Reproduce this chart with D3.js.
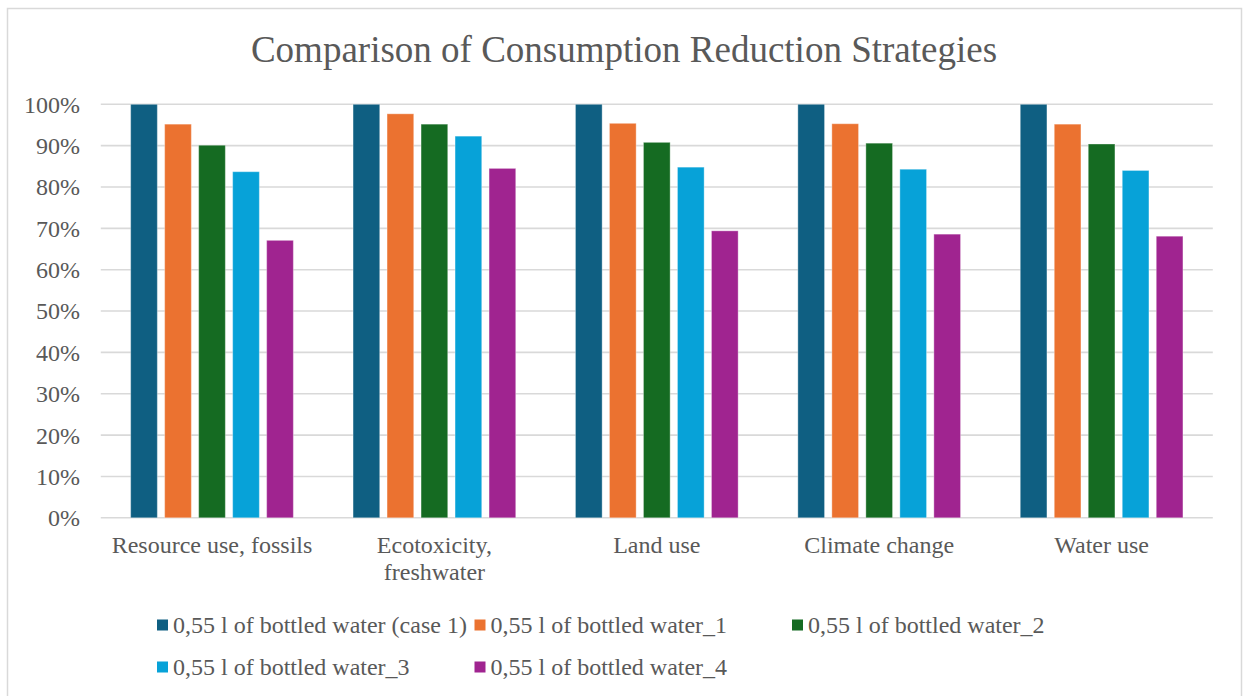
<!DOCTYPE html>
<html>
<head>
<meta charset="utf-8">
<script src="https://cdn.jsdelivr.net/npm/d3@7"></script>
<style>
  html, body { margin: 0; padding: 0; background: #fff; }
  svg { display: block; }
  text { font-family: "Liberation Serif", "Times New Roman", serif; fill: #595959; }
</style>
</head>
<body>
<div id="chart"></div>
<script>
// Impact categories along the x axis
const categories = ["Resource use, fossils", "Ecotoxicity, freshwater", "Land use", "Climate change", "Water use"];

// Relative impact per scenario (share of case 1)
const seriesNames = [
  "0,55 l of bottled water (case 1)",
  "0,55 l of bottled water_1",
  "0,55 l of bottled water_2",
  "0,55 l of bottled water_3",
  "0,55 l of bottled water_4"
];
const case1  = [1.000, 1.000, 1.000, 1.000, 1.000];
const water1 = [0.952, 0.977, 0.954, 0.953, 0.952];
const water2 = [0.901, 0.952, 0.908, 0.906, 0.904];
const water3 = [0.837, 0.923, 0.848, 0.843, 0.840];
const water4 = [0.671, 0.845, 0.694, 0.686, 0.681];
const seriesValues = [case1, water1, water2, water3, water4];

const yTicks = [0, 0.1, 0.2, 0.3, 0.4, 0.5, 0.6, 0.7, 0.8, 0.9, 1.0];
const colors = ["#0f5f82", "#eb7230", "#156b22", "#07a2d8", "#a02490"];

const W = 1244, H = 696;
const plot = { left: 100.8, right: 1212.8, top: 104.3, bottom: 517.8 };

const svg = d3.select("#chart").append("svg")
  .attr("width", W).attr("height", H);

svg.append("rect").attr("width", W).attr("height", H).attr("fill", "#fff");

// Chart frame
svg.append("rect")
  .attr("x", 7.5).attr("y", 8.5)
  .attr("width", 1234).attr("height", 700)
  .attr("fill", "none").attr("stroke", "#d9d9d9").attr("stroke-width", 1.5);

// Title
svg.append("text")
  .attr("x", 624).attr("y", 62)
  .attr("text-anchor", "middle")
  .style("font-size", "37px")
  .text("Comparison of Consumption Reduction Strategies");

const x0 = d3.scaleBand().domain(categories).range([plot.left, plot.right]).padding(0);
const x1 = d3.scaleBand().domain(d3.range(seriesNames.length))
  .range([0, x0.bandwidth()]).paddingInner(0.215).paddingOuter(0.878);
const y = d3.scaleLinear().domain([0, 1]).range([plot.bottom, plot.top]);

// Gridlines
svg.append("g").selectAll("line").data(yTicks).join("line")
  .attr("x1", plot.left).attr("x2", plot.right)
  .attr("y1", d => y(d)).attr("y2", d => y(d))
  .attr("stroke", "#d9d9d9").attr("stroke-width", 1.6);

// Y axis labels
const yAxis = d3.axisLeft(y).tickValues(yTicks).tickFormat(d3.format(".0%")).tickSize(0).tickPadding(0);
const gy = svg.append("g").attr("transform", "translate(80,0)").call(yAxis);
gy.select(".domain").remove();
gy.selectAll("text")
  .style("font-size", "24px")
  .style("font-family", "'Liberation Serif', 'Times New Roman', serif")
  .attr("fill", "#595959")
  .attr("dy", "0.33em");

// Bars
const groups = svg.append("g").selectAll("g").data(categories).join("g")
  .attr("transform", d => `translate(${x0(d)},0)`);

groups.selectAll("rect")
  .data((c, ci) => seriesValues.map((vals, si) => ({ si, v: vals[ci] })))
  .join("rect")
  .attr("x", d => x1(d.si))
  .attr("width", x1.bandwidth())
  .attr("y", d => y(d.v))
  .attr("height", d => y(0) - y(d.v))
  .attr("fill", d => colors[d.si])
  .attr("stroke", "#ffffff").attr("stroke-opacity", 0.35).attr("stroke-width", 1);

// Category labels (wrapped where needed)
const catLines = {
  "Ecotoxicity, freshwater": ["Ecotoxicity,", "freshwater"]
};
const xl = svg.append("g").selectAll("text").data(categories).join("text")
  .attr("x", d => x0(d) + x0.bandwidth() / 2)
  .attr("y", 553)
  .attr("text-anchor", "middle")
  .style("font-size", "24px");
xl.each(function(d) {
  const lines = catLines[d] || [d];
  d3.select(this).selectAll("tspan").data(lines).join("tspan")
    .attr("x", x0(d) + x0.bandwidth() / 2)
    .attr("dy", (l, i) => i === 0 ? 0 : 27)
    .text(l => l);
});

// Legend
const legendPos = [
  [157, 625], [474.5, 625], [792, 625],
  [157, 667], [474.5, 667]
];
const lg = svg.append("g").selectAll("g").data(seriesNames).join("g")
  .attr("transform", (d, i) => `translate(${legendPos[i][0]},${legendPos[i][1]})`);
lg.append("rect")
  .attr("x", 0).attr("y", -5.5).attr("width", 11).attr("height", 11)
  .attr("fill", (d, i) => colors[i]);
lg.append("text")
  .attr("x", 16).attr("y", 8)
  .style("font-size", "24px")
  .text(d => d);
</script>
</body>
</html>
